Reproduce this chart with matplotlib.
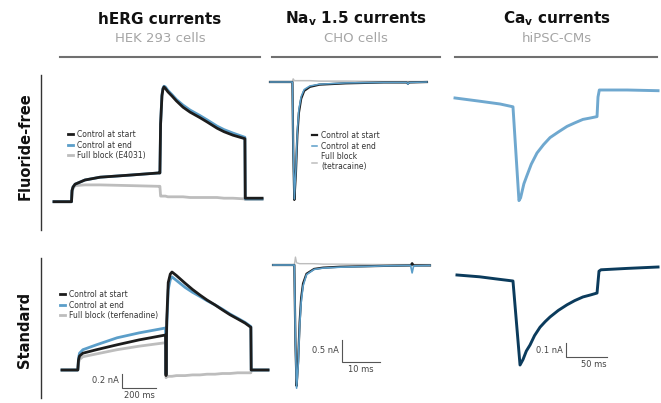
import matplotlib
matplotlib.use("Agg")
import matplotlib.pyplot as plt
from matplotlib.lines import Line2D

plt.rcParams['font.family'] = ['DejaVu Sans']

# ---------------- data (time in ms, current in nA) ----------------
# hERG, fluoride-free
herg_ff_t = [0, 103, 106, 112, 124, 182, 271, 447, 612, 623, 627, 635, 641, 647, 655, 670, 694, 720, 759, 800, 859, 900, 959, 1000, 1053, 1123, 1125, 1224]
herg_ff_start = [-0.01, -0.01, 0.15, 0.20, 0.24, 0.30, 0.34, 0.37, 0.40, 0.40, 1.10, 1.50, 1.60, 1.63, 1.61, 1.56, 1.50, 1.43, 1.34, 1.27, 1.19, 1.13, 1.04, 0.99, 0.94, 0.89, 0.04, 0.04]
herg_ff_end = [-0.01, -0.01, 0.15, 0.20, 0.24, 0.30, 0.34, 0.37, 0.40, 0.40, 1.10, 1.52, 1.61, 1.64, 1.63, 1.58, 1.52, 1.45, 1.37, 1.30, 1.22, 1.16, 1.07, 1.02, 0.97, 0.91, 0.03, 0.03]
herg_ff_block = [-0.01, -0.01, 0.12, 0.18, 0.22, 0.23, 0.23, 0.22, 0.21, 0.21, 0.07, 0.07, 0.07, 0.07, 0.07, 0.06, 0.06, 0.06, 0.06, 0.05, 0.05, 0.05, 0.05, 0.04, 0.04, 0.03, 0.02, 0.02]

# hERG, standard
herg_std_t = [47, 140, 144, 150, 170, 250, 371, 500, 656, 659, 663, 672, 684, 694, 720, 771, 815, 859, 900, 947, 990, 1035, 1080, 1124, 1158, 1160, 1259]
herg_std_start = [0.0, 0.0, 0.14, 0.20, 0.24, 0.29, 0.36, 0.43, 0.50, -0.08, 0.70, 1.25, 1.37, 1.40, 1.35, 1.24, 1.15, 1.07, 1.00, 0.93, 0.86, 0.79, 0.73, 0.67, 0.61, 0.0, 0.0]
herg_std_end = [0.0, 0.0, 0.16, 0.24, 0.29, 0.36, 0.46, 0.53, 0.60, -0.06, 0.60, 1.15, 1.29, 1.33, 1.28, 1.18, 1.11, 1.05, 0.99, 0.93, 0.87, 0.80, 0.74, 0.68, 0.62, 0.0, 0.0]
herg_std_block = [0.0, 0.0, 0.10, 0.15, 0.19, 0.23, 0.29, 0.34, 0.39, -0.11, -0.10, -0.09, -0.09, -0.09, -0.08, -0.08, -0.07, -0.07, -0.06, -0.06, -0.05, -0.05, -0.04, -0.04, -0.04, 0.0, 0.0]

# Nav1.5, fluoride-free
nav_ff_t = [0, 5.9, 6.1, 6.4, 6.8, 7.2, 7.6, 8.2, 9.0, 10.5, 13, 20, 30, 36.0, 36.3, 36.6, 41.3]
nav_ff_start = [0, 0, -1.5, -2.68, -2.1, -1.2, -0.7, -0.38, -0.2, -0.11, -0.06, -0.03, -0.01, -0.01, -0.04, -0.01, 0]
nav_ff_end = [0, 0, -1.5, -2.66, -2.0, -1.1, -0.62, -0.33, -0.17, -0.09, -0.05, -0.02, -0.01, -0.01, -0.05, -0.01, 0]
nav_ff_block = [0.01, 0.01, 0.07, 0.03, 0.03, 0.03, 0.03, 0.03, 0.03, 0.03, 0.02, 0.02, 0.01, 0.01, 0.01, 0.01, 0.01]

# Nav1.5, standard
nav_std_t = [0.8, 6.4, 6.7, 7.0, 7.4, 7.8, 8.2, 8.7, 9.6, 11.6, 14, 18.4, 30, 37.0, 37.4, 37.8, 42.1]
nav_std_start = [0, 0, -1.8, -2.75, -2.2, -1.3, -0.75, -0.42, -0.2, -0.09, -0.06, -0.04, -0.02, -0.01, 0.04, -0.01, -0.01]
nav_std_end = [0, 0, -1.8, -2.80, -2.3, -1.4, -0.85, -0.48, -0.22, -0.10, -0.07, -0.05, -0.02, -0.01, -0.18, -0.02, -0.01]
nav_std_block = [0, 0, 0.18, 0.05, 0.04, 0.03, 0.03, 0.03, 0.03, 0.03, 0.02, 0.02, 0.01, 0.01, 0.01, 0.01, 0.01]

# Cav, fluoride-free and standard
cav_ff_t = [0, 30, 55, 70.7, 78, 80, 84, 87.8, 93, 100, 108, 115.9, 126, 136.6, 146, 156, 165, 173.2, 174.4, 176, 210, 247.6]
cav_ff = [-0.057, -0.08, -0.10, -0.12, -0.79, -0.77, -0.67, -0.61, -0.53, -0.45, -0.39, -0.34, -0.30, -0.26, -0.235, -0.21, -0.20, -0.19, -0.05, 0.0, 0.0, -0.005]
cav_std_t = [2.4, 30, 50, 70.7, 79.3, 83, 87, 91.5, 97, 103.7, 110, 115.9, 126, 136.6, 146, 156, 165, 173.2, 175.6, 178, 210, 247.6]
cav_std = [-0.057, -0.07, -0.085, -0.10, -0.70, -0.66, -0.60, -0.557, -0.49, -0.43, -0.39, -0.357, -0.31, -0.27, -0.24, -0.214, -0.20, -0.186, -0.03, -0.02, -0.01, 0.0]

# scale bars: (corner time, corner current, dt, di, labels)
herg_bar = (400, -0.257, 200, 0.2, "200 ms", "0.2 nA")
nav_bar = (18.95, -2.20, 10, 0.5, "10 ms", "0.5 nA")
cav_bar = (135.4, -0.643, 50, 0.1, "50 ms", "0.1 nA")

legend_herg_ff = ["Control at start", "Control at end", "Full block (E4031)"]
legend_herg_std = ["Control at start", "Control at end", "Full block (terfenadine)"]
legend_nav = ["Control at start", "Control at end", "Full block\n(tetracaine)"]

titles = [r"hERG currents", r"Na$_\mathbf{v}$ 1.5 currents", r"Ca$_\mathbf{v}$ currents"]
subtitles = ["HEK 293 cells", "CHO cells", "hiPSC-CMs"]
rows = ["Fluoride-free", "Standard"]

# ---------------- styling ----------------
C_BLACK = "#1c1c1c"
C_BLUE = "#5b9ec9"
C_GRAY = "#bdbdbd"
C_CAV1 = "#6fa8cf"
C_CAV2 = "#0b3b5c"
C_BAR = "#555555"

W, H = 661, 403
fig = plt.figure(figsize=(W / 100, H / 100), dpi=100)


def panel(x0, y0, x1, y1, ox, sx, oy, sy):
    ax = fig.add_axes([x0 / W, 1 - y1 / H, (x1 - x0) / W, (y1 - y0) / H])
    ax.set_axis_off()
    ax.set_xlim((x0 - ox) / sx, (x1 - ox) / sx)
    ax.set_ylim((oy - y1) / sy, (oy - y0) / sy)
    return ax


def scalebar(ax, bar, xlabel_ha="center"):
    t0, i0, dt, di, xl, yl = bar
    ax.plot([t0, t0, t0 + dt], [i0 + di, i0, i0], color=C_BAR, lw=0.8, solid_joinstyle="miter")
    ax.annotate(yl, (t0, i0 + di / 2), xytext=(-2.5, 0), textcoords="offset points",
                ha="right", va="center", fontsize=6, color="#444444")
    xt = t0 + dt / 2 if xlabel_ha == "center" else t0 + dt
    ax.annotate(xl, (xt, i0), xytext=(0, -2), textcoords="offset points",
                ha=xlabel_ha, va="top", fontsize=6, color="#444444")


def legend(ax, handles, labels, x, y):
    leg = ax.legend(handles, labels, loc="upper left", bbox_to_anchor=(x / W, 1 - y / H),
                    bbox_transform=fig.transFigure, frameon=False, prop={"size": 5.5},
                    handlelength=0.7, handletextpad=0.5, labelspacing=0.2,
                    borderpad=0, borderaxespad=0)
    for t in leg.get_texts():
        t.set_color("#333333")


# hERG panels: 0.17 px/ms, 70 px/nA
ax = panel(44, 62, 276, 224, 54, 0.17, 201, 70)
g = ax.plot(herg_ff_t, herg_ff_block, color=C_GRAY, lw=2)[0]
b = ax.plot(herg_ff_t, herg_ff_end, color=C_BLUE, lw=2)[0]
k = ax.plot(herg_ff_t, herg_ff_start, color=C_BLACK, lw=2)[0]
legend(ax, [k, b, g], legend_herg_ff, 68, 130)

ax = panel(44, 245, 276, 402, 54, 0.17, 370, 70)
g = ax.plot(herg_std_t, herg_std_block, color=C_GRAY, lw=2)[0]
b = ax.plot(herg_std_t, herg_std_end, color=C_BLUE, lw=2)[0]
k = ax.plot(herg_std_t, herg_std_start, color=C_BLACK, lw=2)[0]
legend(ax, [k, b, g], legend_herg_std, 60, 290)
scalebar(ax, herg_bar)

# Nav panels: 3.8 px/ms, 44 px/nA
ax = panel(262, 62, 446, 224, 270, 3.8, 82, 44)
g = ax.plot(nav_ff_t, nav_ff_block, color=C_GRAY, lw=1.1)[0]
k = ax.plot(nav_ff_t, nav_ff_start, color=C_BLACK, lw=1.6)[0]
b = ax.plot(nav_ff_t, nav_ff_end, color=C_BLUE, lw=1.1)[0]
legend(ax, [k, b, g], legend_nav, 312, 131)

ax = panel(262, 245, 446, 402, 270, 3.8, 265, 44)
g = ax.plot(nav_std_t, nav_std_block, color=C_GRAY, lw=1.0)[0]
k = ax.plot(nav_std_t, nav_std_start, color=C_BLACK, lw=1.6)[0]
b = ax.plot(nav_std_t, nav_std_end, color=C_BLUE, lw=1.2)[0]
scalebar(ax, nav_bar)

# Cav panels: 0.82 px/ms, 140 px/nA
ax = panel(448, 62, 661, 224, 455, 0.82, 90, 140)
ax.plot(cav_ff_t, cav_ff, color=C_CAV1, lw=2.1)

ax = panel(448, 245, 661, 402, 455, 0.82, 267, 140)
ax.plot(cav_std_t, cav_std, color=C_CAV2, lw=2.1)
scalebar(ax, cav_bar, xlabel_ha="right")

# ---------------- headers ----------------
centers = [160, 356, 557]
lines = [(60, 260), (272, 440), (455, 657)]
for c, t, s, (l0, l1) in zip(centers, titles, subtitles, lines):
    fig.text(c / W, 1 - 19 / H, t, ha="center", va="center", fontsize=11, fontweight="bold", color="#111111")
    fig.text(c / W, 1 - 39 / H, s, ha="center", va="center", fontsize=9.5, color="#a5a5a5")
    fig.add_artist(Line2D([l0 / W, l1 / W], [1 - 57 / H, 1 - 57 / H], color="#707070", lw=1.5,
                          transform=fig.transFigure))

for lab, yc, (ya, yb) in zip(rows, [146, 330], [(75, 230), (258, 398)]):
    fig.text(25 / W, 1 - yc / H, lab, ha="center", va="center", rotation=90,
             fontsize=10.5, fontweight="bold", color="#111111")
    fig.add_artist(Line2D([41 / W, 41 / W], [1 - ya / H, 1 - yb / H], color="#333333", lw=1,
                          transform=fig.transFigure))

fig.savefig("out.png", dpi=100)
